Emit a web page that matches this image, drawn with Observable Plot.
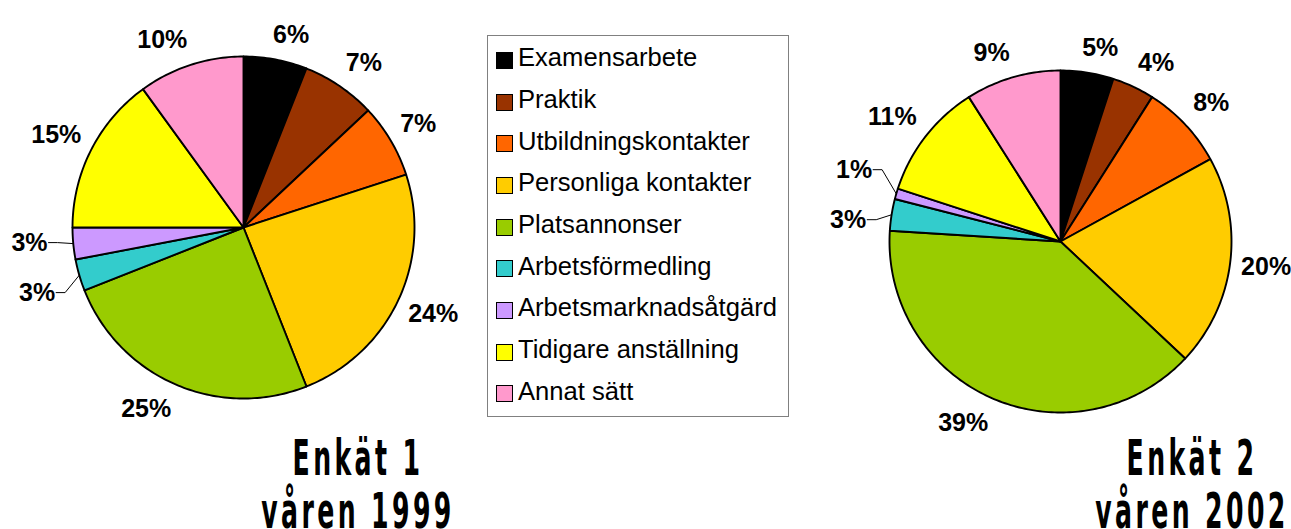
<!DOCTYPE html>
<html><head><meta charset="utf-8">
<script src="https://cdn.jsdelivr.net/npm/d3@7"></script>
<script src="https://cdn.jsdelivr.net/npm/@observablehq/plot@0.6"></script>
<style>
html,body{margin:0;padding:0;background:#fff;}
#root{position:relative;width:1291px;height:529px;overflow:hidden;font-family:"Liberation Sans",Arial,sans-serif;}
.pie{position:absolute;top:0;}
.legend{position:absolute;left:487px;top:35px;width:302px;height:382px;border:1px solid #808080;box-sizing:border-box;padding-top:1px;}
.item{display:flex;align-items:center;height:41.7px;margin-left:8px;font-size:25.6px;color:#000;white-space:nowrap;}
.sw{width:15px;height:15px;border:1.5px solid #000;margin-right:5px;margin-top:5px;flex:none;}
.title{position:absolute;width:360px;text-align:center;font-family:"DejaVu Sans Condensed","DejaVu Sans",sans-serif;font-weight:bold;font-size:50px;line-height:53px;letter-spacing:6px;transform:scaleX(0.56);transform-origin:center;color:#000;}
</style>
</head><body>
<div id="root"></div>
<script>
const categories = ["Examensarbete","Praktik","Utbildningskontakter","Personliga kontakter","Platsannonser","Arbetsförmedling","Arbetsmarknadsåtgärd","Tidigare anställning","Annat sätt"];
const colors = ["#000000","#993300","#FF6600","#FFCC00","#99CC00","#33CCCC","#CC99FF","#FFFF00","#FF99CC"];
const values1999 = [6,7,7,24,25,3,3,15,10];
const values2002 = [5,4,8,20,39,3,1,11,9];
const titleLines1999 = ["Enkät 1","våren 1999"];
const titleLines2002 = ["Enkät 2","våren 2002"];

const root = document.getElementById("root");
const LABEL_FONT = "bold 25px 'Liberation Sans', Arial, sans-serif";
const ctx = document.createElement("canvas").getContext("2d");
ctx.font = LABEL_FONT;

function pieChart(values, {cx, cy, r, width, height}) {
  const total = d3.sum(values);
  let acc = 0;
  const slices = values.map((v, i) => {
    const a0 = acc / total * 2 * Math.PI; acc += v;
    const a1 = acc / total * 2 * Math.PI;
    return {cat: categories[i], v, a0, a1, mid: (a0 + a1) / 2};
  });
  const pts = [];
  slices.forEach(s => {
    pts.push({cat: s.cat, x: 0, y: 0});
    const n = Math.max(2, Math.ceil((s.a1 - s.a0) / (Math.PI / 180)));
    for (let k = 0; k <= n; k++) {
      const a = s.a0 + (s.a1 - s.a0) * k / n;
      pts.push({cat: s.cat, x: Math.sin(a), y: Math.cos(a)});
    }
    pts.push({cat: s.cat, x: 0, y: 0});
  });
  const px = 1 / r; // one pixel in data units
  const anchorR = 182 * px, smallR = 215 * px;
  const labels = slices.map(s => {
    const text = s.v + "%";
    const w = ctx.measureText(text).width;
    const small = s.v <= 3;
    const sn = Math.sin(s.mid), cs = Math.cos(s.mid);
    if (small) return {text, x: sn * smallR, y: cs * smallR, small, mid: s.mid, w};
    const offX = Math.sign(sn) * (w / 2) * Math.min(1, Math.abs(sn) * 4);
    const offY = Math.sign(cs) * 14 * Math.min(1, Math.abs(cs) * 1.5);
    return {text, x: sn * anchorR + offX * px, y: cs * anchorR + offY * px, small, mid: s.mid, w};
  });
  // spread the small (leader-line) labels vertically
  const smalls = labels.filter(d => d.small).sort((a, b) => b.y - a.y);
  if (smalls.length > 1) {
    const m = d3.mean(smalls, d => d.y), sp = 50 * px;
    smalls.forEach((d, k) => { d.y = m - (k - (smalls.length - 1) / 2) * sp; });
  }
  const leaders = [];
  smalls.forEach((d, k) => {
    const right = d.x + (d.w / 2) * px;
    leaders.push({id: k, x: Math.sin(d.mid), y: Math.cos(d.mid)});
    leaders.push({id: k, x: right + 10 * px, y: d.y});
    leaders.push({id: k, x: right + 1 * px, y: d.y});
  });
  return Plot.plot({
    width, height,
    margin: 0,
    x: {domain: [-cx * px, (width - cx) * px], axis: null},
    y: {domain: [-(height - cy) * px, cy * px], axis: null},
    color: {domain: categories, range: colors},
    style: {background: "transparent", overflow: "visible"},
    marks: [
      Plot.line(pts, {x: "x", y: "y", z: "cat", fill: "cat", stroke: "#000", strokeWidth: 1.9, strokeLinejoin: "round", curve: "linear"}),
      Plot.line(leaders, {x: "x", y: "y", z: "id", stroke: "#000", strokeWidth: 1, curve: "linear"}),
      Plot.text(labels, {x: "x", y: "y", text: "text", fontSize: 25, fontWeight: "bold", fill: "#000",
        fontFamily: "Liberation Sans, Arial, sans-serif", textAnchor: "middle", lineAnchor: "middle"})
    ]
  });
}

function place(el, left, top) {
  el.style.position = "absolute"; el.style.left = left + "px"; el.style.top = top + "px";
  root.appendChild(el);
}

const p1 = pieChart(values1999, {cx: 243, cy: 227, r: 171, width: 486, height: 440});
p1.classList.add("pie"); place(p1, 0, 0);
const p2 = pieChart(values2002, {cx: 260, cy: 241, r: 171, width: 491, height: 440});
p2.classList.add("pie"); place(p2, 800, 0);

// legend
const lg = document.createElement("div");
lg.className = "legend";
categories.forEach((c, i) => {
  const it = document.createElement("div"); it.className = "item";
  const sw = document.createElement("span"); sw.className = "sw"; sw.style.background = colors[i];
  const tx = document.createElement("span"); tx.textContent = c;
  it.appendChild(sw); it.appendChild(tx); lg.appendChild(it);
});
root.appendChild(lg);

function title(lines, centerX, top) {
  const t = document.createElement("div"); t.className = "title";
  t.innerHTML = lines.map(l => `<div>${l}</div>`).join("");
  t.style.left = (centerX - 180 + 3) + "px"; t.style.top = top + "px";
  root.appendChild(t);
}
title(titleLines1999, 355, 432);
title(titleLines2002, 1189, 432);
</script>
</body></html>
